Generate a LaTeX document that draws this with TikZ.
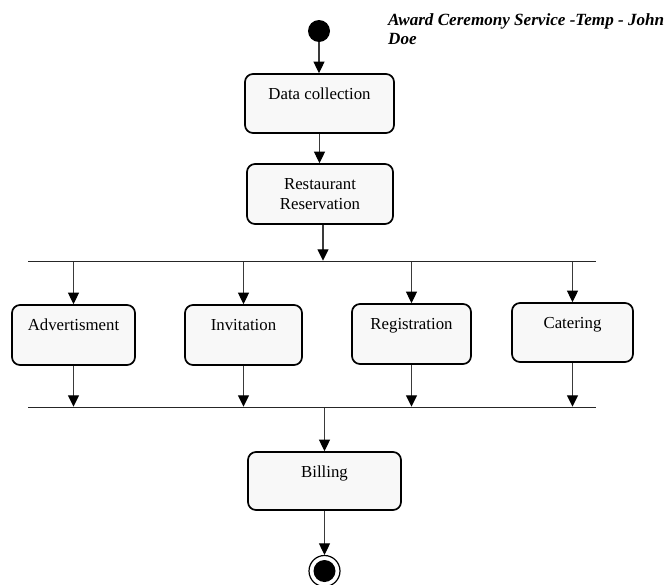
\documentclass[tikz,border=0pt]{standalone}
\usepackage{fontspec}
\setmainfont{Liberation Serif}
\usetikzlibrary{arrows.meta}
\definecolor{boxfill}{HTML}{F8F8F8}
\definecolor{linegray}{HTML}{3A3A3A}
\begin{document}
\begin{tikzpicture}[x=1pt,y=-1pt,
  font=\fontsize{16.8}{20}\selectfont,
  actbox/.style={draw=black, line width=1.7pt, fill=boxfill, rounded corners=8pt,
    inner xsep=2pt, inner ysep=0pt, text height=25.5pt, align=center},
  flow/.style={draw=linegray, line width=1.1pt,
    -{Triangle[length=11.5pt,width=11pt,color=black,fill=black]}},
  syncbar/.style={fill=black!85, inner sep=0pt, minimum height=1.1pt, minimum width=568pt},
  startdot/.style={circle, fill=black, inner sep=0pt, minimum size=22pt},
  enddot/.style={circle, draw=black, line width=1.2pt, fill=white, inner sep=0pt, minimum size=31pt,
    path picture={\fill[black] (path picture bounding box.center) circle (11pt);}}
]
\useasboundingbox (0,0) rectangle (667,584);

\node[startdot] (start) at (319,31) {};
\node[anchor=base west, inner sep=0pt, font=\fontsize{17.1}{19}\selectfont\bfseries\itshape] (title) at (388,25)
  {\begin{tabular}[t]{@{}l@{}}Award Ceremony Service -Temp - John\\Doe\end{tabular}};

\node[actbox, minimum width=149pt, text depth=33.5pt] (dc) at (319.5,103.5) {Data collection};
\node[actbox, minimum width=146pt, text depth=34.5pt] (rr) at (320,194)
  {\begin{tabular}[t]{@{}c@{}}Restaurant\\Reservation\end{tabular}};

\node[syncbar] (fork) at (312,261.5) {};

\node[actbox, minimum width=123pt, text depth=34.5pt] (adv) at (73.5,335) {Advertisment};
\node[actbox, minimum width=117pt, text depth=34.5pt] (inv) at (243.5,335) {Invitation};
\node[actbox, minimum width=119pt, text depth=34.5pt] (reg) at (411.5,334) {Registration};
\node[actbox, minimum width=121pt, text depth=33.5pt] (cat) at (572.5,332.5) {Catering};

\node[syncbar] (join) at (312,407.5) {};

\node[actbox, minimum width=153pt, text depth=32.5pt] (bill) at (324.5,481) {Billing};
\node[enddot] (end) at (324.5,571) {};

\draw[flow] (start.south) -- (start.south |- dc.north);
\draw[flow] (dc.south) -- (dc.south |- rr.north);
\draw[flow] ([xshift=3pt]rr.south) -- ([xshift=3pt]rr.south |- fork.north);
\foreach \b in {adv,inv,reg,cat}{
  \draw[flow] (fork.south -| \b.north) -- (\b.north);
  \draw[flow] (\b.south) -- (\b.south |- join.north);
}
\draw[flow] (join.south -| bill.north) -- (bill.north);
\draw[flow] (bill.south) -- (end.north);
\end{tikzpicture}
\end{document}
